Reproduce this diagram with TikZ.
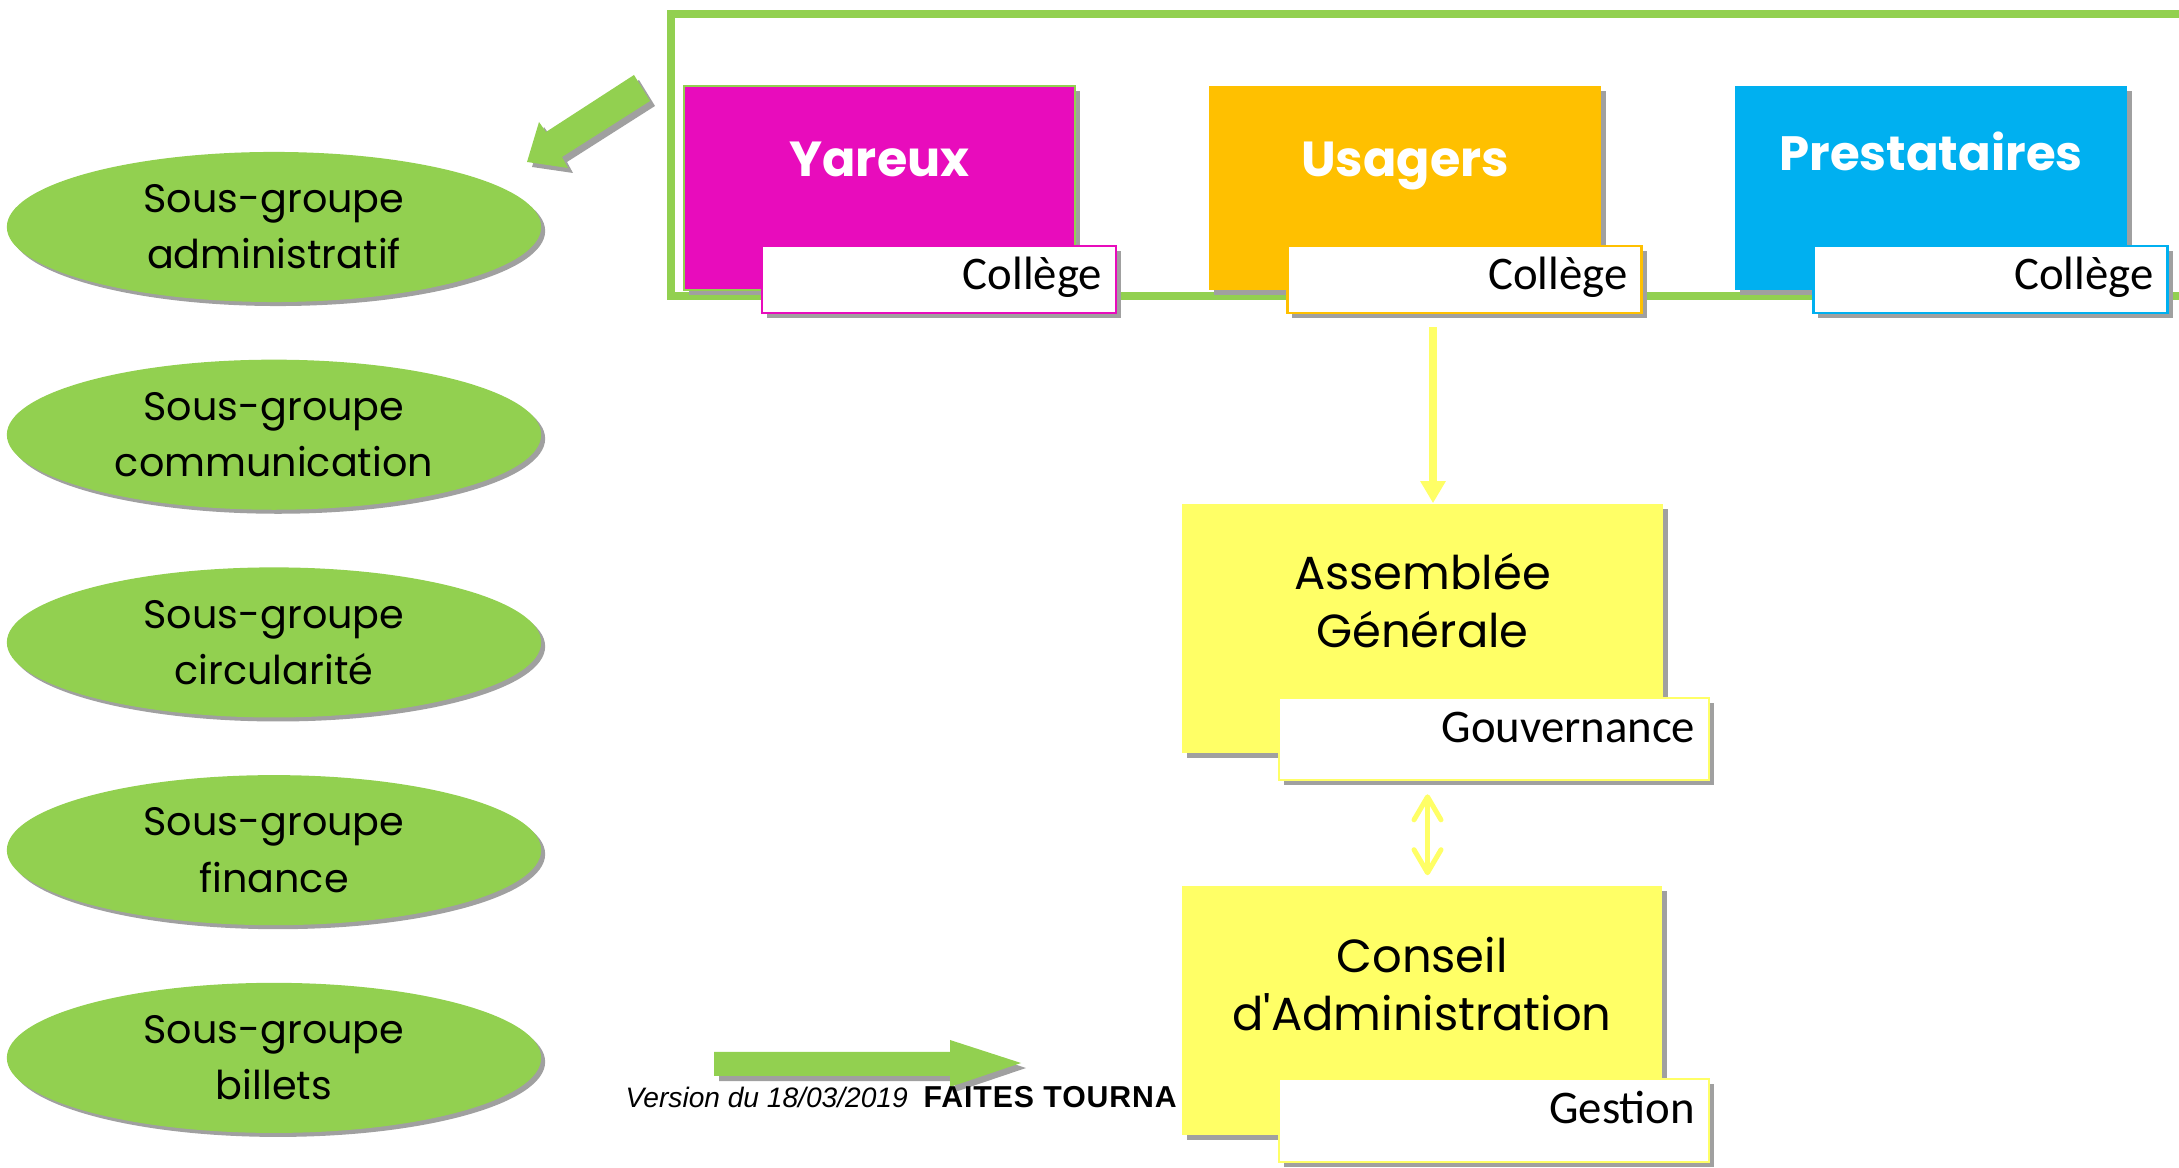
\documentclass[tikz,border=0pt]{standalone}
\usepackage{fontspec}
\setmainfont{Poppins}
\newfontfamily\carlito{Carlito}
\newfontfamily\liberation{Liberation Sans}
\usetikzlibrary{positioning,shapes.geometric,shadows,arrows.meta}

\definecolor{leaf}{HTML}{92D050}
\definecolor{fuchsia}{HTML}{E80CBC}
\definecolor{amber}{HTML}{FFC000}
\definecolor{sky}{HTML}{00B0F0}
\definecolor{lemon}{HTML}{FFFF66}
\definecolor{shade}{HTML}{A0A0A0}

\begin{document}
\begin{tikzpicture}[x=0.01cm,y=-0.01cm,
    shadowed/.style={drop shadow={shadow xshift=0.5mm,shadow yshift=-0.5mm,fill=shade,opacity=1}},
    groupe/.style={ellipse,fill=leaf,minimum width=5.34cm,minimum height=1.5cm,inner sep=0pt,align=center,
      font=\fontsize{11.3}{16}\selectfont,
      drop shadow={shadow xshift=0.4mm,shadow yshift=-0.4mm,fill=shade,opacity=1}},
    college/.style={rectangle,shadowed,minimum width=3.91cm,minimum height=2.04cm,inner sep=0pt},
    headline/.style={text=white,inner sep=0pt,font=\fontsize{14}{16}\selectfont\bfseries},
    tagbox/.style={rectangle,shadowed,fill=white,line width=0.25mm,inner xsep=1.4mm,inner ysep=0pt,align=right,
      font=\carlito\fontsize{13.3}{15}\selectfont,text height=0.4cm},
    organ/.style={rectangle,fill=lemon,shadowed,minimum width=4.8cm,minimum height=2.49cm,inner sep=0pt},
    organtext/.style={align=center,inner sep=0pt,font=\fontsize{13.2}{16.5}\selectfont},
    flow/.style={lemon,line width=0.8mm,-{Triangle[length=2.2mm,width=2.4mm]}},
    link/.style={lemon,line width=0.5mm,{Straight Barb[round,length=2.3mm,width=2.7mm]}-{Straight Barb[round,length=2.3mm,width=2.7mm]}}]

  \useasboundingbox (0,0) rectangle (2179,1168);

  % colleges
  \draw[leaf,line width=0.8mm] (2179,14) -- (671,14) -- (671,296) -- (2179,296);

  \node[college,fill=fuchsia,draw=leaf,line width=0.2mm] (yareux) at (879.5,188) {};
  \node[college,fill=amber] (usagers) at (1405,188) {};
  \node[college,fill=sky] (prestataires) at (1931,188) {};

  \node[headline,anchor=base] (yareuxtxt) at ([yshift=0.11cm]yareux.center) {Yareux};
  \node[headline,anchor=base] (usagerstxt) at ([yshift=0.11cm]usagers.center) {Usagers};
  \node[headline,anchor=base,font=\fontsize{13.7}{16}\selectfont\bfseries] (prestatairestxt) at ([yshift=0.17cm]prestataires.center) {Prestataires};

  \node[tagbox,draw=fuchsia,text width=3.26cm,minimum height=0.67cm,text depth=0.21cm] (yareuxcol) at ([xshift=0.595cm,yshift=-0.915cm]yareux.center) {Collège};
  \node[tagbox,draw=amber,text width=3.26cm,minimum height=0.67cm,text depth=0.21cm] (usagerscol) at ([xshift=0.595cm,yshift=-0.915cm]usagers.center) {Collège};
  \node[tagbox,draw=sky,text width=3.26cm,minimum height=0.67cm,text depth=0.21cm] (prestatairescol) at ([xshift=0.595cm,yshift=-0.915cm]prestataires.center) {Collège};

  % sous-groupes
  \node[groupe] (admin) at (274,227) {Sous-groupe\\administratif};
  \node[groupe,below=2.076cm of admin.center,anchor=center] (comm) {Sous-groupe\\communication};
  \node[groupe,below=2.076cm of comm.center,anchor=center] (circ) {Sous-groupe\\circularité};
  \node[groupe,below=2.076cm of circ.center,anchor=center] (finance) {Sous-groupe\\finance};
  \node[groupe,below=2.076cm of finance.center,anchor=center] (billets) {Sous-groupe\\billets};

  \fill[leaf,shadowed] (634,75) -- (546,132) -- (539,122) -- (527,162) -- (568,168) -- (562,157) -- (650,101) -- cycle;

  % pied de page
  \fill[leaf,shadowed] (714,1052) -- (950,1052) -- (950,1040) -- (1021,1063) -- (950,1087) -- (950,1076) -- (714,1076) -- cycle;
  \node[anchor=base west,inner sep=0pt,font=\liberation\itshape\fontsize{8}{9}\selectfont] (version) at (625,1107) {Version du 18/03/2019};
  \node[anchor=base west,inner sep=0pt,font=\liberation\bfseries\fontsize{8.6}{9}\selectfont\addfontfeatures{LetterSpace=3}] (faites) at (923,1107) {FAITES TOURNA};

  % instances
  \node[organ] (ag) at (1422.5,628.5) {};
  \node[organtext] (agtxt) at ([yshift=0.28cm]ag.center) {Assemblée\\Générale};
  \node[tagbox,draw=lemon,text width=4.02cm,minimum height=0.82cm,text depth=0.34cm] (gouv) at ([xshift=0.715cm,yshift=-1.105cm]ag.center) {Gouvernance};

  \node[organ] (ca) at (1422,1010.5) {};
  \node[organtext] (catxt) at ([yshift=0.265cm]ca.center) {Conseil\\d\textquotesingle Administration};
  \node[tagbox,draw=lemon,text width=4.02cm,minimum height=0.83cm,text depth=0.35cm] (gestion) at ([xshift=0.72cm,yshift=-1.1cm]ca.center) {Gestion};

  \draw[flow,shorten <=1.3mm] ([xshift=1.05mm]ag.north |- usagerscol.south) -- ([xshift=1.05mm]ag.north);
  \draw[link,shorten <=1mm,shorten >=1.3mm] ([xshift=0.55mm]ca.north) -- ([xshift=0.55mm]ca.north |- gouv.south);
\end{tikzpicture}
\end{document}
